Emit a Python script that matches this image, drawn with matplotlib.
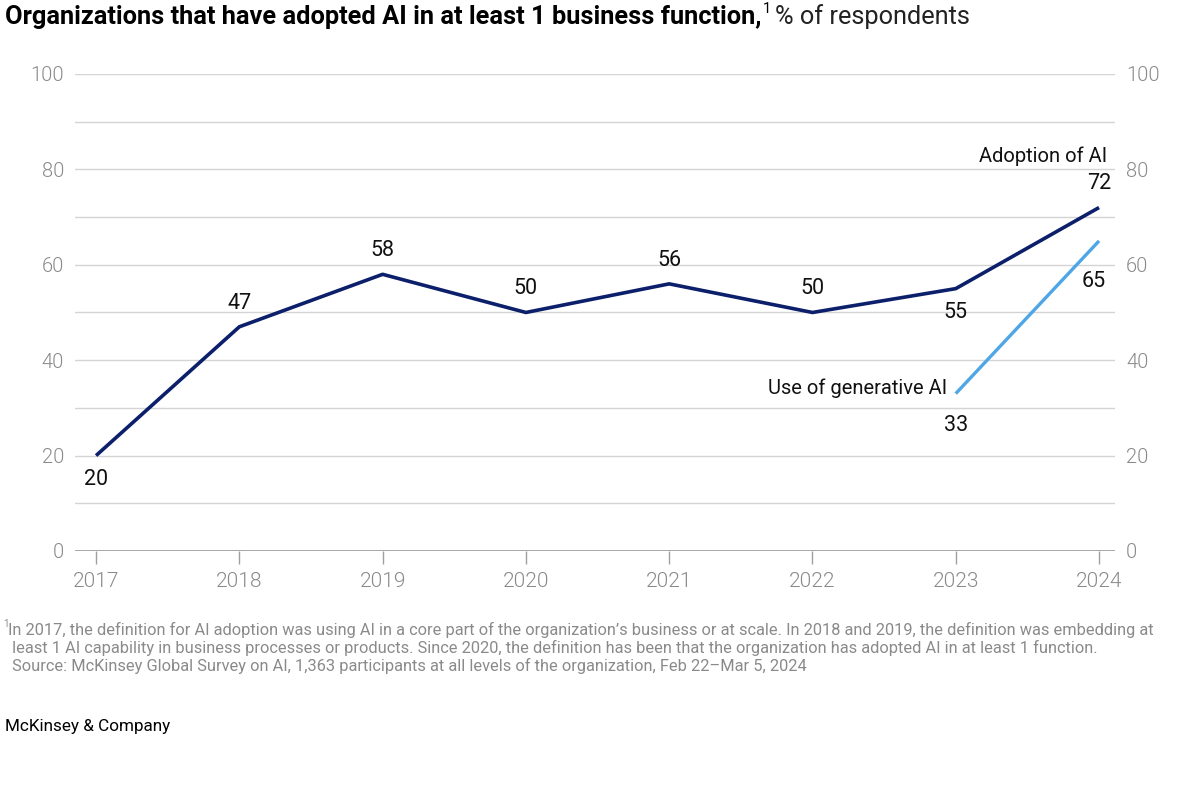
import matplotlib
matplotlib.use("Agg")
import matplotlib.pyplot as plt

plt.rcParams['font.family'] = ['Roboto', 'DejaVu Sans']

# datos
years = [2017, 2018, 2019, 2020, 2021, 2022, 2023, 2024]
adoption = [20, 47, 58, 50, 56, 50, 55, 72]
genai_years = [2023, 2024]
genai = [33, 65]
# posicion de la etiqueta: arriba (1) o abajo (-1)
adoption_pos = [-1, 1, 1, 1, 1, 1, -1, 1]
genai_pos = [-1, -1]

navy = '#0b1f6b'
light = '#4ea6e6'
gris = '#8a8a8a'

fig = plt.figure(figsize=(12, 7.87), dpi=100)
ax = fig.add_axes([0.0625, 0.2999, 0.929 - 0.0625, 0.906 - 0.2999])

ax.set_xlim(2016.853, 2024.11)
ax.set_ylim(0, 100)

# lineas de la cuadricula cada 10
for y in range(10, 101, 10):
    ax.axhline(y, color='#d4d4d4', linewidth=1, zorder=1)
ax.axhline(0, color='#a0a0a0', linewidth=1.3, zorder=1)

ax.plot(years, adoption, color=navy, linewidth=2.6, zorder=3, solid_capstyle='butt')
ax.plot(genai_years, genai, color=light, linewidth=2.4, zorder=3, solid_capstyle='butt')

for x, v, p in zip(years, adoption, adoption_pos):
    ax.annotate(str(v), (x, v), xytext=(0, 17 * p), textcoords='offset points',
                ha='center', va='center', fontsize=15.5, color='#111111')
# 65 va un poco a la izquierda y mas abajo
for x, v, p in zip(genai_years, genai, genai_pos):
    dx, dy = (-4, 29) if x == 2024 else (0, 23)
    ax.annotate(str(v), (x, v), xytext=(dx, dy * p), textcoords='offset points',
                ha='center', va='center', fontsize=15.5, color='#111111')

ax.annotate('Adoption of AI', (2024, 72), xytext=(6, 37), textcoords='offset points',
            ha='right', va='center', fontsize=14.5, color='#111111')
ax.annotate('Use of generative AI', (2023, 33), xytext=(-6, 4), textcoords='offset points',
            ha='right', va='center', fontsize=14.5, color='#111111')

for s in ax.spines.values():
    s.set_visible(False)
ax.set_xticks(years)
ax.set_xticklabels([str(y) for y in years])
ax.tick_params(axis='x', length=9, width=1, color='#a0a0a0', labelcolor=gris,
               labelsize=15, pad=6)
ax.set_yticks(range(0, 101, 20))
ax.tick_params(axis='y', length=0, labelcolor=gris, labelsize=14.5, pad=8,
               labelleft=True, labelright=True)
for lab in ax.get_xticklabels() + ax.get_yticklabels():
    lab.set_fontweight(300)

# titulo en partes
fig.canvas.draw()
r = fig.canvas.get_renderer()
t1 = fig.text(5 / 1200, 1 - 17 / 787, 'Organizations that have adopted AI in at least 1 business function,',
              fontsize=18.3, fontweight='bold', va='center', ha='left', color='#000000')
bb = t1.get_window_extent(r)
x1 = bb.x1 / 1200
t2 = fig.text(x1 + 1 / 1200, 1 - 9 / 787, '1', fontsize=10.5, va='center', ha='left')
bb2 = t2.get_window_extent(r)
fig.text(bb2.x1 / 1200 + 4 / 1200, 1 - 17 / 787, '% of respondents', fontsize=18.3,
         va='center', ha='left', color='#222222')

nota = ('In 2017, the definition for AI adoption was using AI in a core part of the organization\u2019s business or at scale. '
        'In 2018 and 2019, the definition was embedding at\n'
        ' least 1 AI capability in business processes or products. Since 2020, the definition has been that the '
        'organization has adopted AI in at least 1 function.\n'
        ' Source: McKinsey Global Survey on AI, 1,363 participants at all levels of the organization, Feb 22\u2013Mar 5, 2024')
fig.text(3 / 1200, 1 - 624 / 787, '1', fontsize=7, color=gris, va='center', ha='left')
fig.text(8 / 1200, 1 - 648 / 787, nota, fontsize=11.8, color=gris, va='center', ha='left',
         linespacing=1.15)
fig.text(5 / 1200, 1 - 727 / 787, 'McKinsey & Company', fontsize=12.3, color='#000000',
         va='center', ha='left')

fig.savefig('out.png', dpi=100, facecolor='white')
